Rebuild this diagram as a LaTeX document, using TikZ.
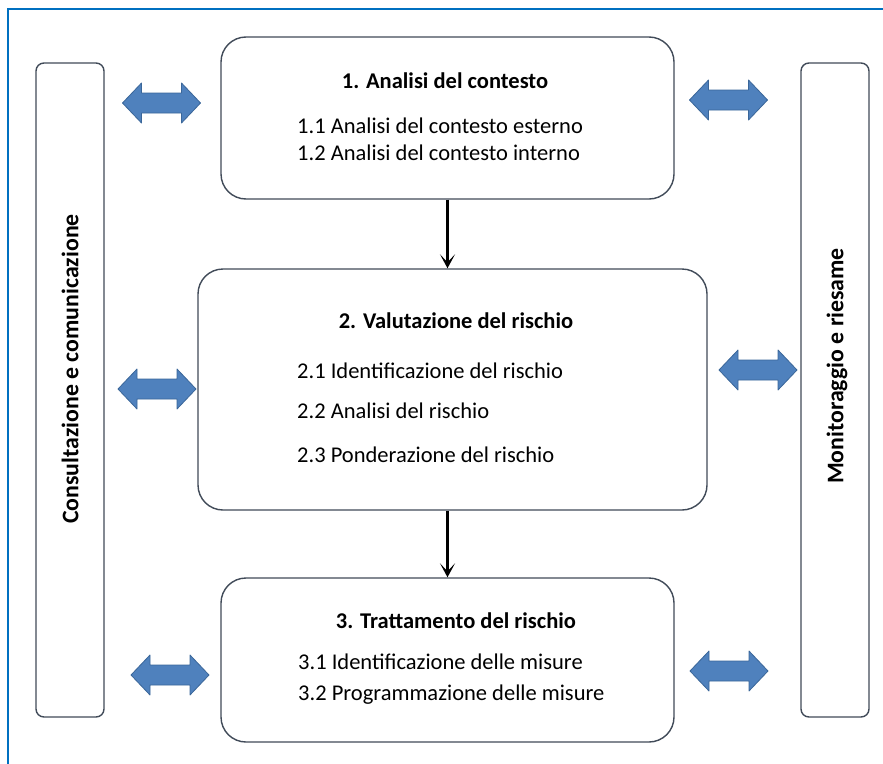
\documentclass[tikz,border=0pt]{standalone}
\usepackage{fontspec}
\setmainfont{Carlito}
\usetikzlibrary{arrows.meta}

\definecolor{boxline}{HTML}{414B59}
\definecolor{arrowfill}{HTML}{4F81BD}
\definecolor{arrowdraw}{HTML}{3A6699}
\definecolor{frameblue}{HTML}{0070C0}

\tikzset{
	mainbox/.style={rectangle, rounded corners=25pt, draw=boxline, line width=1.4pt, inner sep=0pt},
	sidebox/.style={rectangle, rounded corners=8pt, draw=boxline, line width=1.4pt, inner sep=0pt, minimum width=68pt, minimum height=654pt},
	titletext/.style={font=\fontsize{22.5}{27}\selectfont\bfseries, inner sep=0pt, text height=15pt, text depth=4pt},
	sidetext/.style={font=\fontsize{23.8}{28}\selectfont\bfseries, inner sep=0pt, rotate=90},
	itemtext/.style={font=\fontsize{22.5}{27}\selectfont, inner sep=0pt, anchor=west, text height=15pt, text depth=4pt},
	flow/.style={-{Stealth[length=14pt,width=15pt,inset=8pt]}, line width=2.2pt, black},
	pics/dblarrow/.style={code={
		\draw[fill=arrowfill, draw=arrowdraw, line width=0.8pt, line join=round] (-39,0) -- (-20,-20) -- (-20,-10) -- (20,-10) -- (20,-20) -- (39,0) -- (20,20) -- (20,10) -- (-20,10) -- (-20,20) -- cycle;
	}}
}

\begin{document}
\begin{tikzpicture}[x=1pt, y=-1pt]
		\clip (0,0) rectangle (883,763);
		\fill[white] (0,0) rectangle (883,763);
		\draw[frameblue, line width=2.4pt] (8,9) rectangle (900,780);

		% side boxes
		\draw (70,390) node (consult) [sidebox] {};
		\draw (835,390) node (monitor) [sidebox] {};
		\draw (70,369) node[sidetext] (consultlbl) {Consultazione e comunicazione};
		\draw (837,366) node[sidetext] (monitorlbl) {Monitoraggio e riesame};

		% main boxes
		\draw (447.5,118) node (contesto) [mainbox, minimum width=453pt, minimum height=162pt] {};
		\draw (452.5,389.5) node (valutazione) [mainbox, minimum width=509pt, minimum height=241pt] {};
		\draw (447.5,660) node (trattamento) [mainbox, minimum width=453pt, minimum height=164pt] {};

		\draw (445,83) node[titletext] (contestotit) {1. Analisi del contesto};
		\draw (297,128) node[itemtext] (contestoa) {1.1 Analisi del contesto esterno};
		\draw (297,155) node[itemtext] (contestob) {1.2 Analisi del contesto interno};

		\draw (456,323) node[titletext] (valutazionetit) {2. Valutazione del rischio};
		\draw (297,373) node[itemtext] (valutazionea) {2.1 Identificazione del rischio};
		\draw (297,413) node[itemtext] (valutazioneb) {2.2 Analisi del rischio};
		\draw (297,457) node[itemtext] (valutazionec) {2.3 Ponderazione del rischio};

		\draw (456,623) node[titletext] (trattamentotit) {3. Trattamento del rischio};
		\draw (298,664) node[itemtext] (trattamentoa) {3.1 Identificazione delle misure};
		\draw (298,695) node[itemtext] (trattamentob) {3.2 Programmazione delle misure};

		% flow
		\draw[flow] (contesto.south) to (contesto.south |- valutazione.north);
		\draw[flow] (contesto.south |- valutazione.south) to (contesto.south |- trattamento.north);

		% exchange arrows
		\pic at (161.5,103) {dblarrow};
		\pic at (157,389) {dblarrow};
		\pic at (170,675) {dblarrow};
		\pic at (728.5,100) {dblarrow};
		\pic at (758,370) {dblarrow};
		\pic at (729,671) {dblarrow};
	\end{tikzpicture}
\end{document}
